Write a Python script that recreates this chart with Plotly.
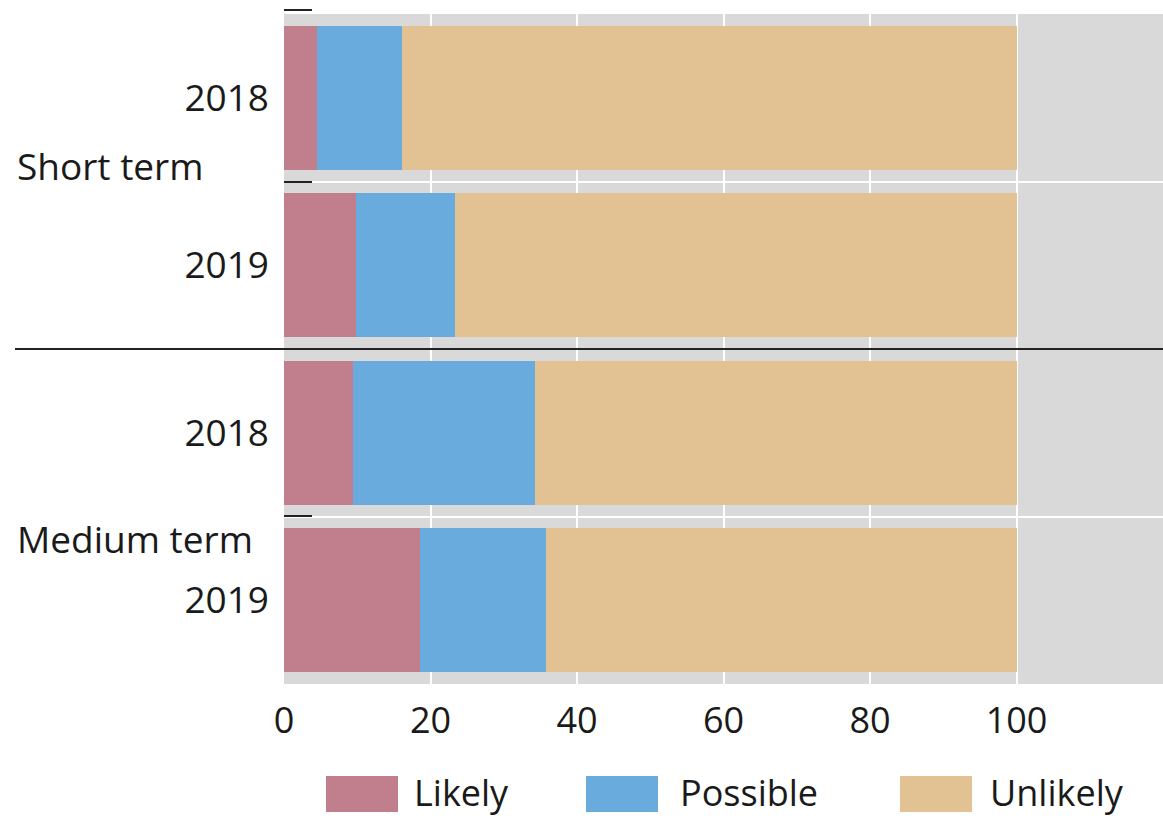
import plotly.graph_objects as go

# ---- data ----
groups = ["Short term", "Medium term"]
years = ["2018", "2019", "2018", "2019"]
series_names = ["Likely", "Possible", "Unlikely"]
likely = [4.5, 9.8, 9.4, 18.5]
possible = [11.6, 13.6, 24.9, 17.3]
unlikely = [83.9, 76.6, 65.7, 64.2]
x_ticks = [0, 20, 40, 60, 80, 100]

colors = ["#C17F8E", "#6AABDE", "#E2C292"]

W, H = 1163, 818
ML, MR, MT, MB = 284, 0, 14, 134
PW, PH = W - ML - MR, H - MT - MB

def px(x):
    return (x - ML) / PW

def py(y):
    return (H - MB - y) / PH

FONT = "Open Sans"
TXT = "#1a1a1a"

pos = list(range(len(years)))
fig = go.Figure()
for name, vals, c in zip(series_names, [likely, possible, unlikely], colors):
    fig.add_trace(go.Bar(y=pos, x=vals, name=name, orientation="h",
                         marker=dict(color=c, line=dict(width=0)), width=0.86,
                         showlegend=False))

fig.update_layout(
    width=W, height=H, barmode="stack",
    margin=dict(l=ML, r=MR, t=MT, b=MB),
    plot_bgcolor="#D9D9D9", paper_bgcolor="white",
    font=dict(family=FONT, size=37, color=TXT),
    xaxis=dict(range=[0, 120], tickvals=x_ticks, showgrid=True, gridcolor="white",
               gridwidth=2, zeroline=False, showline=False, ticks="",
               ticklabelstandoff=12, tickfont=dict(size=36)),
    yaxis=dict(range=[3.5, -0.5], tickvals=pos, ticktext=years, showgrid=False,
               zeroline=False, showline=False, ticks="", ticklabelstandoff=14,
               tickfont=dict(size=37),
               minor=dict(tickvals=[0.5, 1.5, 2.5], showgrid=True,
                          gridcolor="white", gridwidth=2, ticks="")),
)

shapes = []
# black separator between groups
shapes.append(dict(type="line", xref="paper", yref="y", x0=px(15), x1=1, y0=1.5, y1=1.5,
                   line=dict(color="#222222", width=2)))
# short black tick marks at left edge
for yy in [10, 182, 516]:
    shapes.append(dict(type="line", xref="paper", yref="paper", x0=px(284), x1=px(312),
                       y0=py(yy), y1=py(yy), line=dict(color="#222222", width=2)))

annotations = []
# group labels
annotations.append(dict(text=groups[0], xref="paper", yref="paper", x=px(15), y=py(165),
                        xanchor="left", yanchor="middle", showarrow=False,
                        font=dict(size=37)))
annotations.append(dict(text=groups[1], xref="paper", yref="paper", x=px(15), y=py(538),
                        xanchor="left", yanchor="middle", showarrow=False,
                        font=dict(size=37)))

# custom legend
sw_x = [326, 586, 900]
tx_x = [412, 678, 988]
for name, c, sx, tx in zip(series_names, colors, sw_x, tx_x):
    shapes.append(dict(type="rect", xref="paper", yref="paper", x0=px(sx), x1=px(sx + 72),
                       y0=py(812), y1=py(776), fillcolor=c, line=dict(width=0)))
    annotations.append(dict(text=name, xref="paper", yref="paper", x=px(tx), y=py(792),
                            xanchor="left", yanchor="middle", showarrow=False,
                            font=dict(size=36)))

fig.update_layout(shapes=shapes, annotations=annotations)
fig.write_html("out.html", config={"displayModeBar": False},
               post_script="document.body.style.margin='0';document.body.style.overflow='hidden';")
